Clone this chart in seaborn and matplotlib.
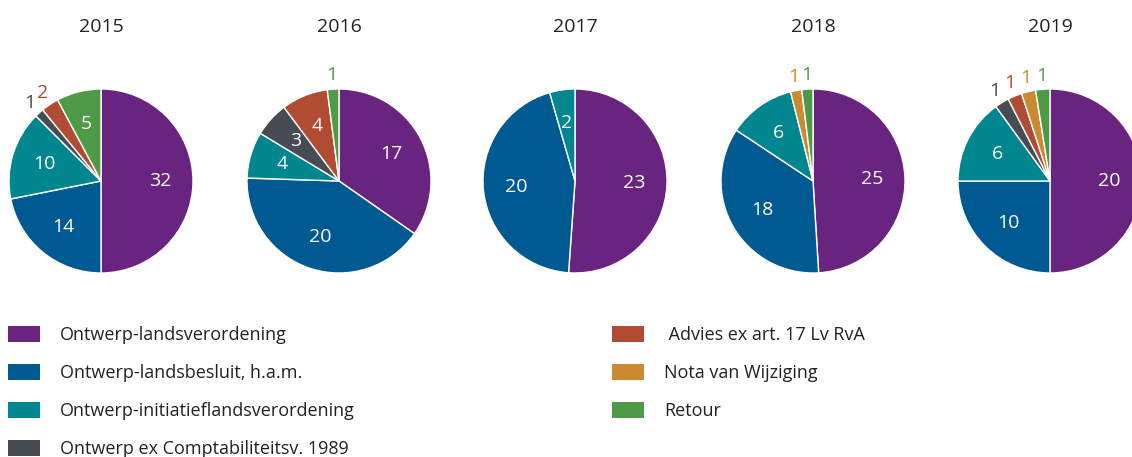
import matplotlib
matplotlib.use("Agg")
import matplotlib.pyplot as plt
import seaborn as sns
import numpy as np
from matplotlib.patches import Patch

sns.set_theme(style="white")
plt.rcParams['font.family'] = ['Open Sans', 'DejaVu Sans']

years = ["2015", "2016", "2017", "2018", "2019"]
categories = [
    "Ontwerp-landsverordening",
    "Ontwerp-landsbesluit, h.a.m.",
    "Ontwerp-initiatieflandsverordening",
    "Ontwerp ex Comptabiliteitsv. 1989",
    " Advies ex art. 17 Lv RvA",
    "Nota van Wijziging",
    "Retour",
]
values_2015 = [32, 14, 10, 1, 2, 0, 5]
values_2016 = [17, 20, 4, 3, 4, 0, 1]
values_2017 = [23, 20, 2, 0, 0, 0, 0]
values_2018 = [25, 18, 6, 0, 0, 1, 1]
values_2019 = [20, 10, 6, 1, 1, 1, 1]
all_values = [values_2015, values_2016, values_2017, values_2018, values_2019]

colors = sns.color_palette(["#68247F", "#005A92", "#00868F", "#474B53",
                            "#B04C32", "#C98A30", "#4F9A47"])

W, H = 1132, 457
fig = plt.figure(figsize=(W / 100, H / 100), dpi=100)

centers_x = [101, 339, 575, 813, 1050]
center_y = 181
R = 92
half = 130

for year, vals, cx in zip(years, all_values, centers_x):
    ax = fig.add_axes([(cx - half) / W, 1 - (center_y + half) / H, 2 * half / W, 2 * half / H])
    nz = [(v, c) for v, c in zip(vals, colors) if v > 0]
    v_list = [v for v, _ in nz]
    c_list = [c for _, c in nz]
    wedges, _ = ax.pie(v_list, colors=c_list, startangle=90, counterclock=False,
                       radius=1.0, wedgeprops=dict(edgecolor='white', linewidth=1.0))
    ax.set_xlim(-half / R, half / R)
    ax.set_ylim(-half / R, half / R)
    ax.set_aspect('equal')
    ax.axis('off')
    total = sum(v_list)
    for w, v, c in zip(wedges, v_list, c_list):
        ang = np.deg2rad((w.theta1 + w.theta2) / 2)
        if v / total < 0.04:
            r, col = 1.15, c
        else:
            r, col = 0.64, 'white'
        ax.text(r * np.cos(ang), r * np.sin(ang), str(v), ha='center', va='center',
                fontsize=14, color=col)
    fig.text(cx / W, 1 - 27 / H, year, ha='center', va='center', fontsize=14, color='#222222')

left_handles = [Patch(facecolor=colors[i], edgecolor='none') for i in range(4)]
right_handles = [Patch(facecolor=colors[i], edgecolor='none') for i in range(4, 7)]

leg_kw = dict(frameon=False, fontsize=13, handlelength=1.75, handleheight=0.95,
              handletextpad=1.15, labelspacing=1.11, borderaxespad=0, borderpad=0,
              labelcolor='#222222')
fig.legend(left_handles, categories[:4], loc='upper left',
           bbox_to_anchor=(8 / W, 1 - 326 / H), **leg_kw)
fig.legend(right_handles, categories[4:], loc='upper left',
           bbox_to_anchor=(612 / W, 1 - 326 / H), **leg_kw)

fig.savefig("out.png", dpi=100)
